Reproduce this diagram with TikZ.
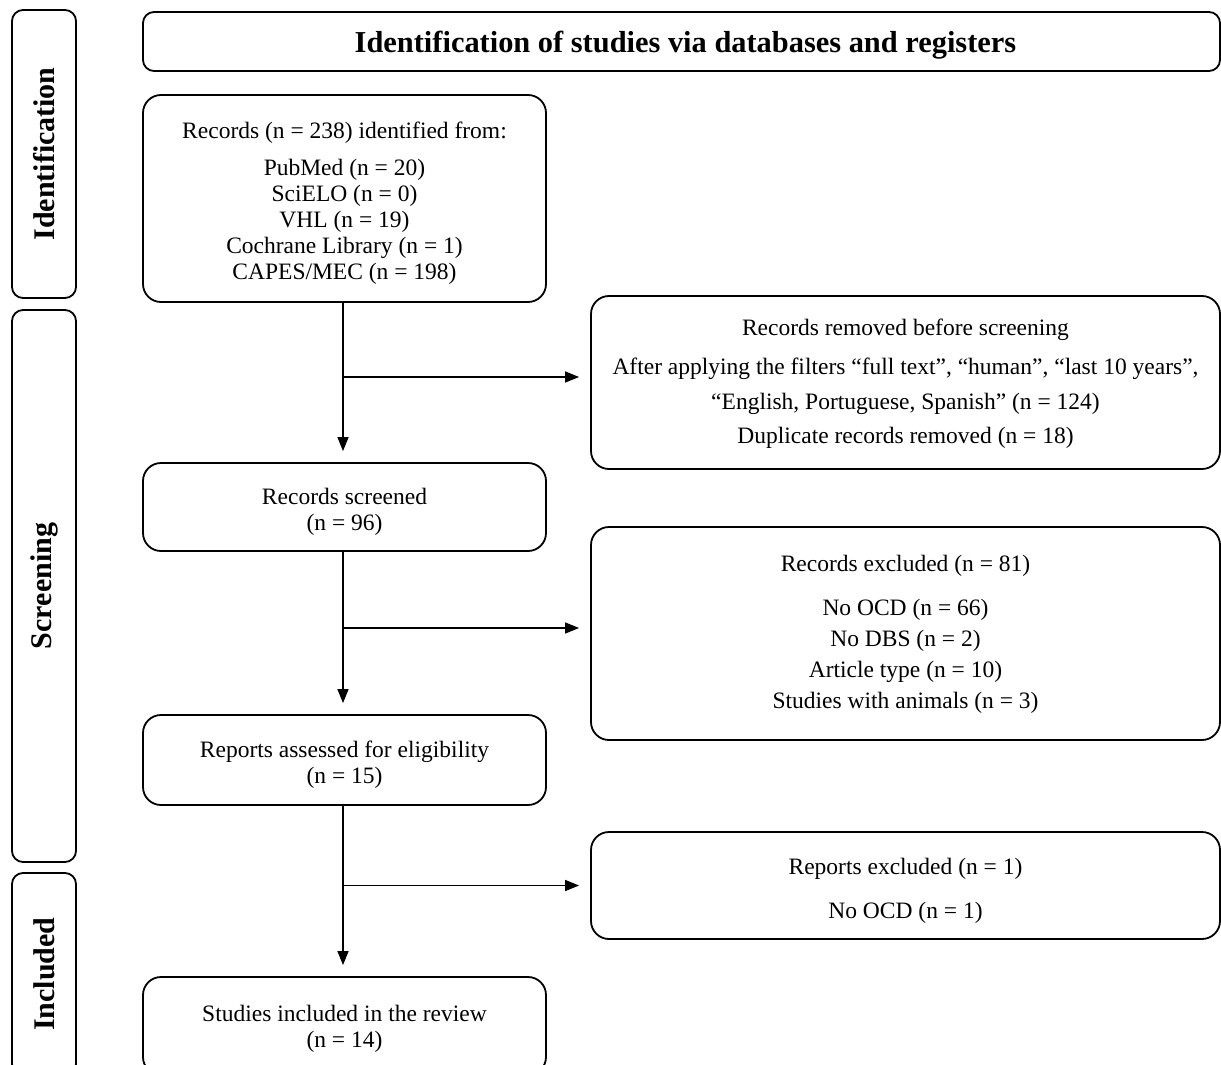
\documentclass[tikz,border=0pt]{standalone}
\usepackage{fontspec}
\setmainfont{Liberation Serif}
\usetikzlibrary{arrows.meta}
\begin{document}
\begin{tikzpicture}[x=1pt,y=-1pt,
  box/.style={draw, line width=1.8pt, rounded corners=18pt, inner sep=0pt},
  mainbox/.style={box, minimum width=403pt},
  sidebox/.style={box, minimum width=629pt},
  txt/.style={inner sep=0pt, align=center, font=\fontsize{23.5}{26}\selectfont},
  lane/.style={draw, line width=1.8pt, rounded corners=11pt, inner sep=0pt, rotate=90,
    minimum height=64pt, font=\fontsize{30}{34}\selectfont\bfseries},
  arr/.style={line width=1.3pt, -{Triangle[length=14pt,width=11pt]}, shorten >=11pt}
]
\useasboundingbox (0,0) rectangle (1221,1065);

% lanes
\node[lane, minimum width=288pt] (laneI) at (44,154) {Identification};
\node[lane, minimum width=552pt] (laneS) at (44,586) {Screening};
\node[lane, minimum width=202pt] (laneN) at (44,974) {Included};

% title
\node[draw, line width=1.8pt, rounded corners=11pt, minimum width=1077pt, minimum height=59pt] (title) at (681.5,41.5) {};
\node[inner sep=0pt, font=\fontsize{30.4}{34}\selectfont\bfseries] (titleT) at ([xshift=4pt,yshift=-4pt]title.center)
  {Identification of studies via databases and registers};

% main column
\node[mainbox, minimum height=207pt] (rec) at (344.5,198.5) {};
\node[txt] (recT) at ([yshift=-5pt]rec.center)
  {Records (n = 238) identified from:\\[11pt]
   PubMed (n = 20)\\ SciELO (n = 0)\\ VHL (n = 19)\\ Cochrane Library (n = 1)\\ CAPES/MEC (n = 198)};
\node[mainbox, minimum height=88pt] (screened) at (344.5,507) {};
\node[txt] (screenedT) at ([yshift=-5pt]screened.center) {Records screened\\ (n = 96)};
\node[mainbox, minimum height=90pt] (assessed) at (344.5,760) {};
\node[txt] (assessedT) at ([yshift=-5pt]assessed.center) {Reports assessed for eligibility\\ (n = 15)};
\node[mainbox, minimum height=98pt] (incl) at (344.5,1026) {};
\node[txt] (inclT) at ([yshift=-3pt]incl.center) {Studies included in the review\\ (n = 14)};

% right column
\node[sidebox, minimum height=173pt] (removed) at (905.5,382.5) {};
\node[txt] (removedT) at ([yshift=-1pt]removed.center)
  {Records removed before screening\\[13pt]
   After applying the filters “full text”, “human”, “last 10 years”,\\[9pt]
   “English, Portuguese, Spanish” (n = 124)\\[8pt]
   Duplicate records removed (n = 18)};
\node[sidebox, minimum height=213pt] (excluded) at (905.5,633.5) {};
\node[txt] (excludedT) at ([yshift=-1pt]excluded.center)
  {Records excluded (n = 81)\\[18pt]
   No OCD (n = 66)\\[5pt] No DBS (n = 2)\\[5pt] Article type (n = 10)\\[5pt] Studies with animals (n = 3)};
\node[sidebox, minimum height=107pt] (repex) at (905.5,885.5) {};
\node[txt] (repexT) at ([yshift=-5pt]repex.center) {Reports excluded (n = 1)\\[18pt] No OCD (n = 1)};

% connectors
\draw[arr] ([xshift=-1.5pt]rec.south) -- ([xshift=-1.5pt]screened.north);
\draw[arr] ([xshift=-1.5pt]screened.south) -- ([xshift=-1.5pt]assessed.north);
\draw[arr] ([xshift=-1.5pt]assessed.south) -- ([xshift=-1.5pt]incl.north);
\draw[arr] ([xshift=-1.5pt,yshift=5.5pt]rec.south |- removed.west) -- ([yshift=5.5pt]removed.west);
\draw[arr] ([xshift=-1.5pt,yshift=5.5pt]screened.south |- excluded.west) -- ([yshift=5.5pt]excluded.west);
\draw[arr] ([xshift=-1.5pt]assessed.south |- repex.west) -- (repex.west);
\end{tikzpicture}
\end{document}
